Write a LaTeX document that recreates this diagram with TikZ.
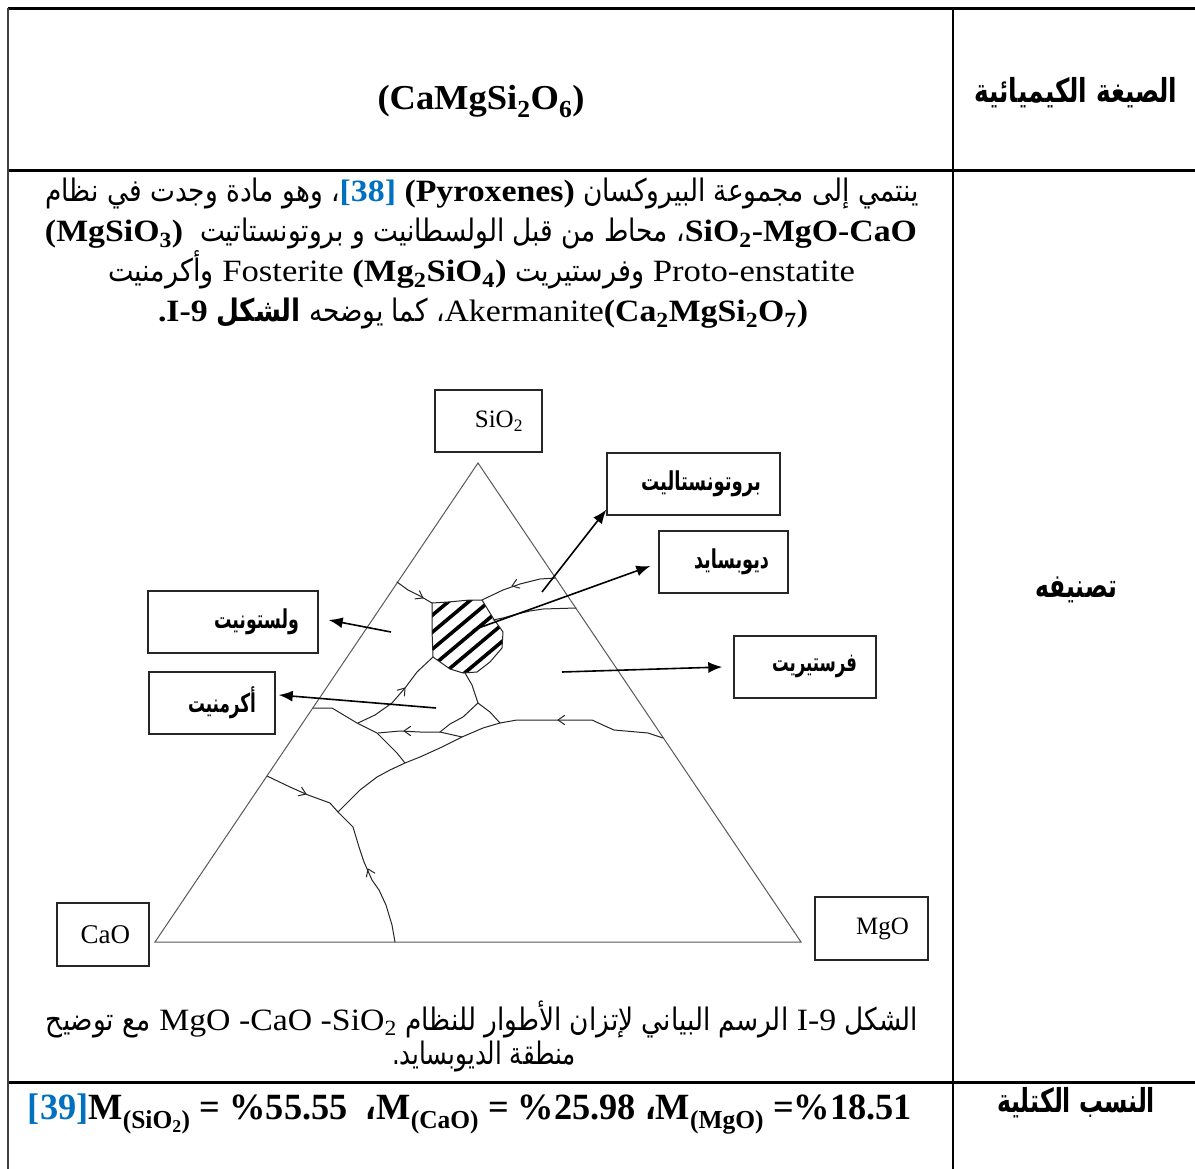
\documentclass[tikz,border=0pt]{standalone}
\usepackage{fontspec}
\usepackage{graphicx}
\setmainfont{Liberation Serif}
\newfontfamily\arfont[Script=Arabic]{DejaVu Sans}
\newfontfamily\arbody[Script=Arabic,FakeStretch=0.78]{DejaVu Sans}
\TeXXeTstate=1
\usetikzlibrary{arrows.meta,calc}
\definecolor{refblue}{RGB}{0,112,192}
\newsavebox\fitbox
\newdimen\fitdim
\newcommand\fitto[2]{\sbox\fitbox{#2}\fitdim=\wd\fitbox\pgfmathsetmacro\fitfac{#1/\fitdim}\scalebox{\fitfac}[1]{\usebox\fitbox}}
\newcommand\fsz[1]{\fontsize{#1}{#1}\selectfont}
\newcommand\AR[1]{{\arbody\beginR#1\endR}}
\newcommand\chev[3]{\draw[bnd] ($(#1,#2)+(#3+145:8)$) -- (#1,#2) -- ($(#1,#2)+(#3-145:8)$);}
\tikzset{
 lbox/.style={draw=black!85, line width=1.4pt, inner xsep=19pt, inner ysep=0pt, align=right, minimum height=62pt},
 conn/.style={line width=1.6pt, -{Latex[length=14pt,width=11pt]}},
 tri/.style={line width=1pt, black!65},
 bnd/.style={line width=1pt, black!85, line join=round, line cap=round},
 rule/.style={line width=3pt},
 txt/.style={inner sep=0pt, anchor=base},
}
\begin{document}
\begin{tikzpicture}[x=1pt,y=-1pt]
\useasboundingbox (0,0) rectangle (1195,1169);
\fill[white] (0,0) rectangle (1195,1169);
% table rules
\draw[rule] (8,9) -- (1195,9);
\draw[rule] (8,171) -- (1195,171);
\draw[rule] (8,1082) -- (1195,1082);
\draw[line width=2pt, black!75] (8,8) -- (8,1169);
\draw[line width=2pt] (953,8) -- (953,1169);

% row 1
\node[txt] (formula) at (481,110) {\fitto{207pt}{\fsz{35}\bfseries (CaMgSi\textsubscript{2}O\textsubscript{6})}};
\node[inner sep=0pt] (h1) at (1076,93) {\fitto{203pt}{\fsz{33}\arfont\bfseries\beginR الصيغة الكيميائية\endR}};
\node[inner sep=0pt] (h2) at (1076,590) {\fitto{82pt}{\fsz{33}\arfont\bfseries\beginR تصنيفه\endR}};
\node[inner sep=0pt] (h3) at (1076,1103) {\fitto{158pt}{\fsz{33}\arfont\bfseries\beginR النسب الكتلية\endR}};

% paragraph
\node[txt] (p1) at (482,202) {\fsz{31}\fitto{873pt}{\AR{، وهو مادة وجدت في نظام}\textcolor{refblue}{\bfseries[38]} \textbf{(Pyroxenes)} \AR{ينتمي إلى مجموعة البيروكسان}}};
\node[txt] (p2) at (481,242) {\fsz{31}\fitto{872pt}{\textbf{(MgSiO\textsubscript{3})}\ \ \AR{، محاط من قبل الولسطانيت و بروتونستاتيت}\textbf{SiO\textsubscript{2}-MgO-CaO}}};
\node[txt] (p3) at (481.5,282) {\fsz{31}\fitto{747pt}{\AR{وأكرمنيت} Fosterite \textbf{(Mg\textsubscript{2}SiO\textsubscript{4})} \AR{وفرستيريت} Proto-enstatite}};
\node[txt] (p4) at (483,322) {\fsz{31}\fitto{650pt}{\textbf{.I-9} \AR{، كما يوضحه \textbf{الشكل}}Akermanite\textbf{(Ca\textsubscript{2}MgSi\textsubscript{2}O\textsubscript{7})}}};

% caption
\node[txt] (c1) at (482,1030) {\fsz{31}\fitto{872pt}{\AR{مع توضيح} MgO -CaO -SiO\textsubscript{2} \AR{الرسم البياني لإتزان الأطوار للنظام} I-9 \AR{الشكل}}};
\node[txt] (c2) at (484,1064) {\fsz{31}\fitto{184pt}{\AR{منطقة الديوبسايد.}}};

% masses
\node[txt] (mass) at (470,1119) {\fsz{37}\bfseries\fitto{884pt}{\textcolor{refblue}{[39]}M\textsubscript{(SiO\textsubscript{2})} = \%55.55\ \ {\arbody\bfseries ،}M\textsubscript{(CaO)} = \%25.98 {\arbody\bfseries ،}M\textsubscript{(MgO)} =\%18.51}};

% ternary diagram
\coordinate (T) at (478,463);
\coordinate (L) at (155,942);
\coordinate (R) at (801,942);
\draw[tri] (T) -- (L) -- (R) -- cycle;

% hatched diopside field
\begin{scope}
\clip (432,603) -- (448,602) -- (470,600) -- (482,600) -- (493,618) -- (503,632) -- (502,648) -- (490,662) -- (477,672) -- (463,673) -- (450,669) -- (433,657) -- (432,630) -- cycle;
\foreach \k in {-3,...,3}
  \draw[line width=3.6pt] ($(467,637)+(50:13*\k)$) ++(-40:-70) -- ++(-40:140);
\end{scope}
\draw[bnd] (482,600) -- (493,618) -- (503,632) -- (502,648) -- (490,662) -- (477,672) -- (463,673) -- (450,669) -- (433,657) -- (432,630) -- (432,603);

% boundary curves
\draw[bnd] (397,582) -- (408,590) -- (420,596) -- (432,603);
\draw[bnd] (432,603) -- (448,602) -- (470,600) -- (482,600) -- (503,590) -- (520,584) -- (540,579) -- (555,578);
\draw[bnd] (493,620) -- (503,618) -- (517,614) -- (530,611) -- (543,609) -- (576,608);
\draw[bnd] (433,657) -- (417,672) -- (405,688) -- (392,703) -- (375,715) -- (358,723);
\draw[bnd] (313,708) -- (332,708) -- (357,723) -- (377,733) -- (397,753) -- (405,763);
\draw[bnd] (465,673) -- (472,685) -- (478,703);
\draw[bnd] (478,703) -- (463,717) -- (450,724) -- (440,732) -- (420,732) -- (400,731) -- (378,733);
\draw[bnd] (440,732) -- (462,737);
\draw[bnd] (478,703) -- (490,712) -- (500,723);
\draw[bnd] (500,723) -- (517,720) -- (545,720) -- (592,720) -- (605,726) -- (614,730) -- (648,733) -- (663,738);
\draw[bnd] (500,723) -- (483,728) -- (462,737) -- (442,747) -- (420,757) -- (405,763) -- (390,770) -- (377,777) -- (360,790) -- (348,802) -- (338,812);
\draw[bnd] (267,776) -- (290,787) -- (308,795) -- (330,803) -- (338,812);
\draw[bnd] (338,812) -- (353,827) -- (359,847) -- (364,862) -- (372,880) -- (379,890) -- (386,905) -- (392,925) -- (395,942);
% direction marks
\chev{423}{598}{29}
\chev{512}{586}{160}
\chev{405}{688}{-51}
\chev{404}{731}{180}
\chev{558}{720}{180}
\chev{306}{794}{22}
\chev{368}{869}{246}

% label boxes
\node[lbox, minimum width=107pt, text width=69pt] (si) at (488.5,421) {\fsz{25}SiO\textsubscript{2}};
\node[lbox, minimum width=173pt, text width=135pt] (pe) at (693.5,484) {\fitto{120pt}{\fsz{26}\arfont\bfseries\beginR بروتونستاليت\endR}};
\node[lbox, minimum width=129pt, text width=91pt] (di) at (723.5,562) {\fitto{75pt}{\fsz{26}\arfont\bfseries\beginR ديوبسايد\endR}};
\node[lbox, minimum width=142pt, text width=104pt] (fo) at (805,667) {\fitto{85pt}{\fsz{26}\arfont\bfseries\beginR فرستيريت\endR}};
\node[lbox, minimum width=170pt, text width=132pt] (wo) at (233,622) {\fitto{85pt}{\fsz{26}\arfont\bfseries\beginR ولستونيت\endR}};
\node[lbox, minimum width=126pt, text width=88pt] (ak) at (212,703) {\fitto{68pt}{\fsz{26}\arfont\bfseries\beginR أكرمنيت\endR}};
\node[lbox, minimum width=92pt, minimum height=63pt, text width=54pt] (ca) at (103,934.5) {\fsz{27}CaO};
\node[lbox, minimum width=113pt, minimum height=63pt, text width=75pt] (mg) at (871.5,928.5) {\fsz{25}MgO};

% arrows
\coordinate (spe) at (542,592);
\coordinate (sdi) at (473,630);
\coordinate (sfo) at (562,672);
\coordinate (swo) at (391,632);
\coordinate (sak) at (436,708);
\draw[conn] (spe) -- ([yshift=6pt]pe.south west);
\draw[conn] (sdi) -- ([xshift=-8pt,yshift=-4pt]di.west);
\draw[conn] (sfo) -- ([xshift=-11pt]fo.west);
\draw[conn] (swo) -- ([xshift=10pt,yshift=2pt]wo.east);
\draw[conn] (sak) -- ([xshift=3pt,yshift=8pt]ak.east);
\end{tikzpicture}
\end{document}
